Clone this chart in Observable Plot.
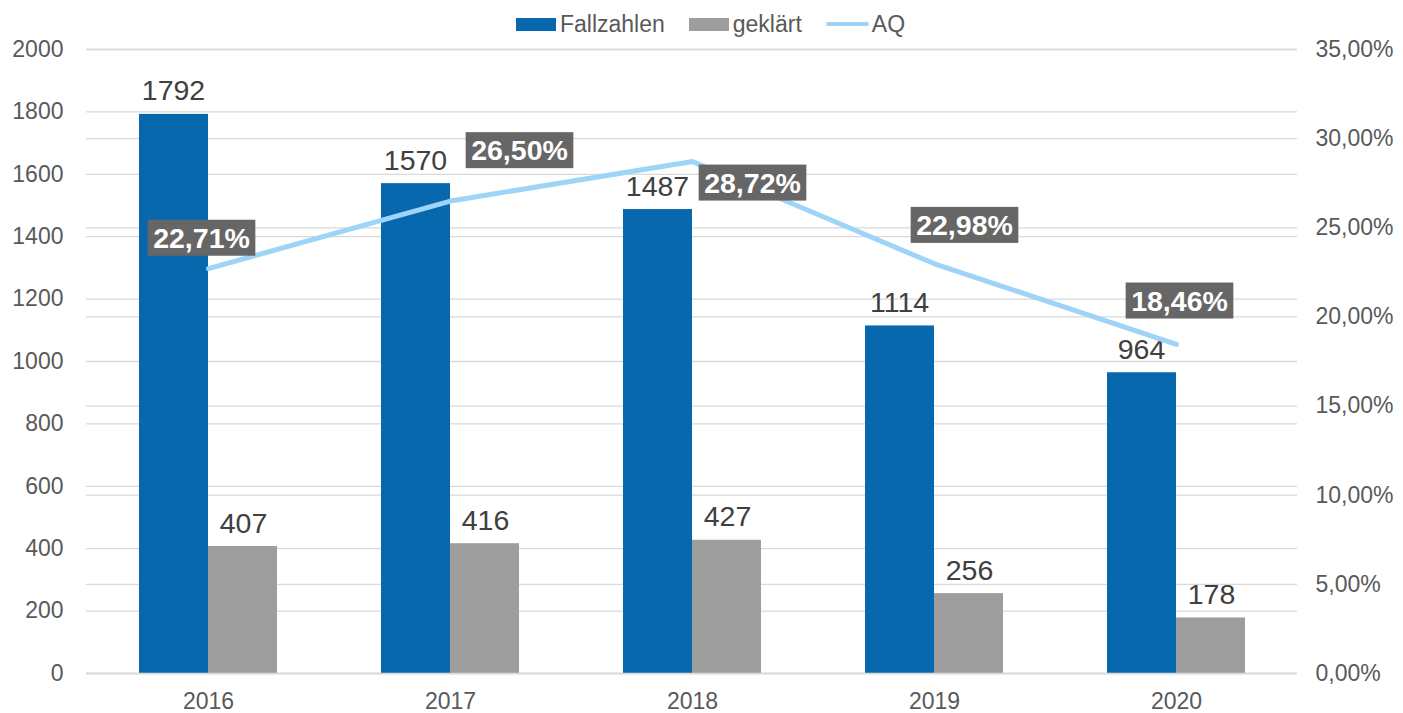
<!DOCTYPE html>
<html>
<head>
<meta charset="utf-8">
<script src="https://cdn.jsdelivr.net/npm/d3@7"></script>
<script src="https://cdn.jsdelivr.net/npm/@observablehq/plot@0.6"></script>
<style>
  body { margin: 0; background: #fff; font-family: "Liberation Sans", Arial, sans-serif; }
  #legend { height: 20px; padding-top: 14px; display: flex; justify-content: center; align-items: center; padding-left: 18px; font-size: 23px; color: #595959; }
  .item { display: flex; align-items: center; margin: 0 12px; }
  .sw { width: 40px; height: 13px; margin-right: 4px; }
  .ln { width: 43px; height: 4px; border-radius: 2px; margin-right: 3px; }
  svg { overflow: visible; }
</style>
</head>
<body>
<div id="legend"></div>
<div id="chart"></div>
<script>
const years = ["2016", "2017", "2018", "2019", "2020"];
const fallzahlen = [1792, 1570, 1487, 1114, 964];
const geklaert = [407, 416, 427, 256, 178];
const aq = [22.71, 26.50, 28.72, 22.98, 18.46];
const leftTicks = [0, 200, 400, 600, 800, 1000, 1200, 1400, 1600, 1800, 2000];
const rightTicks = [0, 5, 10, 15, 20, 25, 30, 35];

const colors = { Fallzahlen: "#0868ad", "geklärt": "#9e9e9e", AQ: "#9dd4f7" };
const labelOffsets = [[-7, -30], [69, -50], [60, 22], [30, -38], [3, -43]];

const scaleK = 2000 / 35;
const rows = years.map((y, i) => ({ year: y, f: fallzahlen[i], g: geklaert[i], aq: aq[i], aqY: aq[i] * scaleK }));
const fmtPct = v => v.toFixed(2).replace(".", ",") + "%";

const legend = document.getElementById("legend");
legend.innerHTML = `
  <div class="item"><div class="sw" style="background:${colors.Fallzahlen}"></div>Fallzahlen</div>
  <div class="item"><div class="sw" style="background:${colors["geklärt"]}"></div>geklärt</div>
  <div class="item"><div class="ln" style="background:${colors.AQ}"></div>AQ</div>`;

const pctMarks = rows.map((r, i) => Plot.text([r], {
  x: "year", y: "aqY", text: d => fmtPct(d.aq),
  dx: labelOffsets[i][0], dy: labelOffsets[i][1],
  fill: "white", fontWeight: "bold", fontSize: 28.5, className: "pct-label"
}));

const chart = Plot.plot({
  width: 1403,
  height: 679,
  marginLeft: 86,
  marginRight: 106,
  marginTop: 15,
  marginBottom: 40,
  style: { fontFamily: "'Liberation Sans', Arial, sans-serif", background: "white", overflow: "visible" },
  x: { type: "band", domain: years, padding: 0, label: null },
  y: { domain: [0, 2000], label: null },
  marks: [
    Plot.gridY(leftTicks, { stroke: "#d9d9d9", strokeOpacity: 1, strokeWidth: 1.3 }),
    Plot.gridY(rightTicks.map(v => v * scaleK), { stroke: "#d9d9d9", strokeOpacity: 1, strokeWidth: 1.3 }),
    Plot.axisY({ ticks: leftTicks, tickFormat: d => String(d), tickSize: 0, tickPadding: 23, fontSize: 23, color: "#595959", label: null }),
    Plot.axisY({ anchor: "right", ticks: rightTicks.map(v => v * scaleK), tickFormat: d => fmtPct(d / scaleK), tickSize: 0, tickPadding: 18, fontSize: 23, color: "#595959", label: null }),
    Plot.axisX({ tickSize: 0, tickPadding: 19, fontSize: 23, color: "#595959", label: null }),
    Plot.barY(rows, { x: "year", y: "f", fill: colors.Fallzahlen, insetLeft: 52, insetRight: 121 }),
    Plot.barY(rows, { x: "year", y: "g", fill: colors["geklärt"], insetLeft: 121, insetRight: 52 }),
    Plot.ruleY([0], { stroke: "#d9d9d9", strokeWidth: 1.3 }),
    Plot.text(rows, { x: "year", y: "f", text: d => String(d.f), dx: -35, dy: -14, lineAnchor: "bottom", fontSize: 28.5, fill: "#404040" }),
    Plot.text(rows, { x: "year", y: "g", text: d => String(d.g), dx: 35, dy: -14, lineAnchor: "bottom", fontSize: 28.5, fill: "#404040" }),
    Plot.lineY(rows, { x: "year", y: "aqY", stroke: colors.AQ, strokeWidth: 5, strokeLinecap: "round", strokeLinejoin: "round" }),
    ...pctMarks
  ]
});
document.getElementById("chart").appendChild(chart);

// Add dark background boxes behind percentage labels
chart.querySelectorAll(".pct-label text").forEach(t => {
  const b = t.getBBox();
  const rect = document.createElementNS("http://www.w3.org/2000/svg", "rect");
  const padX = 5.5, padY = 2;
  rect.setAttribute("x", b.x - padX);
  rect.setAttribute("y", b.y - padY);
  rect.setAttribute("width", b.width + 2 * padX);
  rect.setAttribute("height", b.height + 2 * padY);
  rect.setAttribute("fill", "#666666");
  const tr = t.getAttribute("transform");
  if (tr) rect.setAttribute("transform", tr);
  t.parentNode.insertBefore(rect, t);
});
</script>
</body>
</html>
